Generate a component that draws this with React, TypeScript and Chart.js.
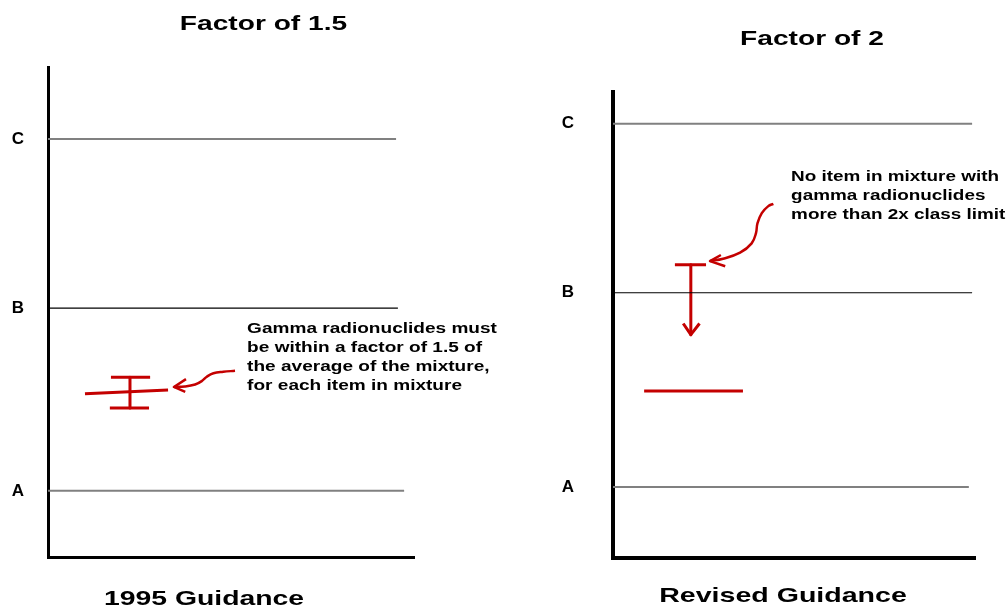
import React, { useEffect, useRef } from 'react';
import { Chart, registerables } from 'chart.js';

Chart.register(...registerables);

const FONT = '"Liberation Sans", Arial, Helvetica, sans-serif';
const RED = '#c40000';

// Waste class levels (arbitrary concentration scale 0-100)
const LEVEL_LABELS = ['A', 'B', 'C'];
const LEVEL_COLORS = ['#808080', '#000000', '#808080'];
const LEVEL_WIDTHS = [2, 1.2, 2];

// ---- Left panel: 1995 Guidance, factor of 1.5 ----
const LEFT_LEVELS = [13.5, 50.8, 85.3];
const LEFT_LEVEL_ENDS = [97.3, 95.6, 95.1];
const LEFT_AVERAGE_X = [10.1, 32.8];
const LEFT_AVERAGE_Y = [33.3, 34.1];
const LEFT_RANGE_X = 22.4;
const LEFT_RANGE_HIGH = 36.7;
const LEFT_RANGE_LOW = 30.4;
const LEFT_CAP_HIGH_X = [17.2, 27.9];
const LEFT_CAP_LOW_X = [16.9, 27.6];
const LEFT_POINTER_X = [51.1, 47.9, 45.2, 43.4, 42.0, 40.2, 37.4, 34.4];
const LEFT_POINTER_Y = [38.0, 37.8, 37.5, 36.8, 35.9, 35.2, 34.8, 34.7];
const LEFT_HEAD_X = [37.7, 34.4, 37.5];
const LEFT_HEAD_Y = [36.3, 34.7, 33.7];
const LEFT_NOTE = [
  'Gamma radionuclides must',
  'be within a factor of 1.5 of',
  'the average of the mixture,',
  'for each item in mixture',
];

// ---- Right panel: Revised Guidance, factor of 2 ----
const RIGHT_LEVELS = [15.2, 56.9, 93.2];
const RIGHT_LEVEL_ENDS = [98.3, 99.2, 99.2];
const RIGHT_AVERAGE_X = [8.6, 35.9];
const RIGHT_AVERAGE_Y = 35.8;
const RIGHT_LIMIT_X = [17.1, 25.7];
const RIGHT_LIMIT_Y = 62.9;
const RIGHT_DROP_X = 21.5;
const RIGHT_DROP_Y = [62.9, 47.9];
const RIGHT_DROP_HEAD_X = [19.4, 21.5, 23.9];
const RIGHT_DROP_HEAD_Y = [50.3, 47.9, 50.3];
const RIGHT_POINTER_X = [44.3, 42.9, 41.1, 39.9, 39.5, 38.3, 35.1, 30.4, 26.8];
const RIGHT_POINTER_Y = [76.0, 75.5, 74.0, 71.8, 69.7, 67.5, 65.5, 64.2, 63.7];
const RIGHT_HEAD_X = [29.8, 26.8, 31.0];
const RIGHT_HEAD_Y = [65.0, 63.7, 62.6];
const RIGHT_NOTE = [
  'No item in mixture with',
  'gamma radionuclides',
  'more than 2x class limit',
];

function seg(xs: number[], ys: number[], color: string, width: number, tension = 0) {
  return {
    data: xs.map((x, i) => ({ x, y: ys[i] })),
    borderColor: color,
    backgroundColor: color,
    borderWidth: width,
    pointRadius: 0,
    tension,
    fill: false,
    borderCapStyle: 'butt',
    borderJoinStyle: 'round',
  };
}

function levelSets(levels: number[], ends: number[]) {
  return levels.map((v, i) =>
    seg([0, ends[i]], [v, v], LEVEL_COLORS[i], LEVEL_WIDTHS[i])
  );
}

const textPlugin = {
  id: 'panelText',
  afterDraw(chart: any, _args: any, opts: any) {
    const ctx = chart.ctx as CanvasRenderingContext2D;
    const sx = chart.scales.x;
    const sy = chart.scales.y;
    for (const item of opts.items || []) {
      ctx.save();
      ctx.font = `bold ${item.size}px ${FONT}`;
      ctx.fillStyle = '#000';
      ctx.textBaseline = 'alphabetic';
      ctx.textAlign = item.align || 'left';
      let x = item.px;
      let y = item.py;
      if (item.dx !== undefined) {
        x = sx.getPixelForValue(item.dx);
        y = sy.getPixelForValue(item.dy);
      }
      const lines: string[] = Array.isArray(item.text) ? item.text : [item.text];
      ctx.scale(item.stretch, 1);
      lines.forEach((t, i) => {
        ctx.fillText(t, x / item.stretch, y + i * (item.lineHeight || 0));
      });
      ctx.restore();
    }
  },
};

function makeConfig(p: any) {
  return {
    type: 'line',
    data: { datasets: p.datasets },
    plugins: [textPlugin],
    options: {
      animation: false,
      responsive: false,
      devicePixelRatio: 1,
      layout: { padding: { left: 0, right: p.padRight, top: p.top, bottom: 0 } },
      plugins: {
        legend: { display: false },
        tooltip: { enabled: false },
        panelText: { items: p.texts },
      },
      scales: {
        x: {
          type: 'linear',
          min: 0,
          max: 100,
          ticks: { display: false },
          grid: { display: false, drawTicks: false },
          border: { display: true, color: '#000', width: p.axisWidth },
          afterFit: (s: any) => { s.height = p.bottomHeight; },
        },
        y: {
          type: 'linear',
          min: 0,
          max: 100,
          afterBuildTicks: (s: any) => { s.ticks = p.levels.map((v: number) => ({ value: v })); },
          ticks: {
            callback: (_v: any, i: number) => LEVEL_LABELS[i],
            color: '#000',
            font: { family: FONT, size: 17, weight: 'bold' },
            crossAlign: 'near',
            padding: p.labelPad,
            autoSkip: false,
          },
          grid: { display: false, drawTicks: false },
          border: { display: true, color: '#000', width: p.axisWidth },
          afterFit: (s: any) => { s.width = p.leftWidth; },
        },
      },
    },
  };
}

const leftPanel = {
  levels: LEFT_LEVELS,
  padRight: 106,
  top: 67,
  bottomHeight: 50,
  leftWidth: 48,
  labelPad: 24,
  axisWidth: 3,
  datasets: [
    ...levelSets(LEFT_LEVELS, LEFT_LEVEL_ENDS),
    seg(LEFT_AVERAGE_X, LEFT_AVERAGE_Y, RED, 3),
    seg([LEFT_RANGE_X, LEFT_RANGE_X], [LEFT_RANGE_HIGH, LEFT_RANGE_LOW], RED, 3),
    seg(LEFT_CAP_HIGH_X, [LEFT_RANGE_HIGH, LEFT_RANGE_HIGH], RED, 3),
    seg(LEFT_CAP_LOW_X, [LEFT_RANGE_LOW, LEFT_RANGE_LOW], RED, 3),
    seg(LEFT_POINTER_X, LEFT_POINTER_Y, RED, 2.5, 0.4),
    seg(LEFT_HEAD_X, LEFT_HEAD_Y, RED, 2.5),
  ],
  texts: [
    { text: 'Factor of 1.5', px: 263.5, py: 30, size: 21, stretch: 1.34, align: 'center' },
    { text: '1995 Guidance', px: 204, py: 605, size: 21, stretch: 1.35, align: 'center' },
    { text: LEFT_NOTE, dx: 54.4, dy: 45.7, size: 15, stretch: 1.27, lineHeight: 19, align: 'left' },
  ],
};

const rightPanel = {
  levels: RIGHT_LEVELS,
  padRight: 33,
  top: 92,
  bottomHeight: 49,
  leftWidth: 93,
  labelPad: 39,
  axisWidth: 4,
  datasets: [
    ...levelSets(RIGHT_LEVELS, RIGHT_LEVEL_ENDS),
    seg(RIGHT_AVERAGE_X, [RIGHT_AVERAGE_Y, RIGHT_AVERAGE_Y], RED, 3),
    seg(RIGHT_LIMIT_X, [RIGHT_LIMIT_Y, RIGHT_LIMIT_Y], RED, 3),
    seg([RIGHT_DROP_X, RIGHT_DROP_X], RIGHT_DROP_Y, RED, 3),
    seg(RIGHT_DROP_HEAD_X, RIGHT_DROP_HEAD_Y, RED, 3),
    seg(RIGHT_POINTER_X, RIGHT_POINTER_Y, RED, 2.5, 0.4),
    seg(RIGHT_HEAD_X, RIGHT_HEAD_Y, RED, 2.5),
  ],
  texts: [
    { text: 'Factor of 2', px: 292, py: 44.5, size: 21, stretch: 1.34, align: 'center' },
    { text: 'Revised Guidance', px: 263, py: 601.5, size: 21, stretch: 1.36, align: 'center' },
    { text: RIGHT_NOTE, dx: 49.2, dy: 80.8, size: 15, stretch: 1.26, lineHeight: 18.8, align: 'left' },
  ],
};

function Panel({ panel, left, width }: { panel: any; left: number; width: number }) {
  const ref = useRef<HTMLCanvasElement | null>(null);
  useEffect(() => {
    if (!ref.current) return;
    const chart = new Chart(ref.current, makeConfig(panel) as any);
    return () => chart.destroy();
  }, [panel]);
  return (
    <div style={{ position: 'absolute', left, top: 0, width, height: 607 }}>
      <canvas ref={ref} width={width} height={607} style={{ display: 'block' }} />
    </div>
  );
}

export default function App() {
  return (
    <div style={{ position: 'fixed', left: 0, top: 0, width: 1008, height: 607, background: '#fff', overflow: 'hidden' }}>
      <Panel panel={leftPanel} left={0} width={520} />
      <Panel panel={rightPanel} left={520} width={488} />
    </div>
  );
}
